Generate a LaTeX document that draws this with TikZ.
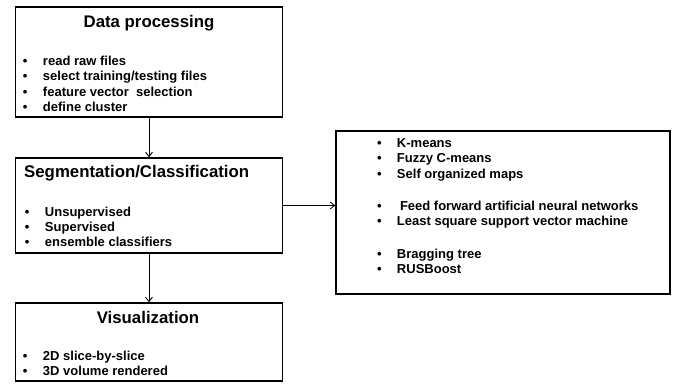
\documentclass[tikz,border=0pt]{standalone}
\usepackage{fontspec}
\setmainfont{Liberation Sans}
\usetikzlibrary{arrows.meta, positioning}
\tikzset{
  every node/.style = {inner sep=0pt},
  stagebox/.style   = {rectangle, draw, line width=1.4bp, minimum width=267bp},
  methodbox/.style  = {rectangle, draw, line width=1.4bp,
                       minimum width=334bp, minimum height=163bp},
  heading/.style    = {font=\fontsize{16.8bp}{20bp}\selectfont\bfseries},
  itemlist/.style   = {anchor=north west, align=left,
                       font=\fontsize{13bp}{15.3bp}\selectfont\bfseries},
  arrow/.style      = {-{Straight Barb[length=4.5bp,width=7bp]}, line width=0.9bp}
}
\newcommand{\blt}{\makebox[20bp][l]{\textbullet}}

\begin{document}
\begin{tikzpicture}[x=1bp, y=-1bp]
  \useasboundingbox (0,0) rectangle (673,384);
  % boxes
  \node[stagebox, minimum height=110bp] (prep)    at (149,62)    {};
  \node[stagebox, minimum height=95bp]  (seg)     at (149,205.5) {};
  \node[stagebox, minimum height=78bp]  (vis)     at (149,342)   {};
  \node[methodbox]                      (methods) at (503,212.5) {};
  % headings
  \node[heading] (preptitle) at (149,23) {Data processing};
  \node[heading, anchor=west] (segtitle) at (24,173) {Segmentation/Classification};
  \node[heading] (vistitle) at (148,317) {Visualization};
  % lists
  \node[itemlist] (preplist) at (22.8,56)
    {\blt read raw files\\ \blt select training/testing files\\
     \blt feature vector\ \ selection\\ \blt define cluster};
  \node[itemlist] (seglist) at (24.8,206.5)
    {\blt Unsupervised\\ \blt Supervised\\ \blt ensemble classifiers};
  \node[itemlist] (vislist) at (22.8,350.5)
    {\blt 2D slice-by-slice\\ \blt 3D volume rendered};
  \node[itemlist] (methlist) at (376.8,138.5)
    {\blt K-means\\ \blt Fuzzy C-means\\ \blt Self organized maps\\[17bp]
     \blt\hspace{3bp}Feed forward artificial neural networks\\
     \blt Least square support vector machine\\[17bp]
     \blt Bragging tree\\ \blt RUSBoost};
  % connectors
  \draw[arrow] (prep.south) -- (prep.south |- seg.north);
  \draw[arrow] (seg.east) -- (seg.east -| methods.west);
  \draw[arrow] (seg.south) -- (seg.south |- vis.north);
\end{tikzpicture}
\end{document}
